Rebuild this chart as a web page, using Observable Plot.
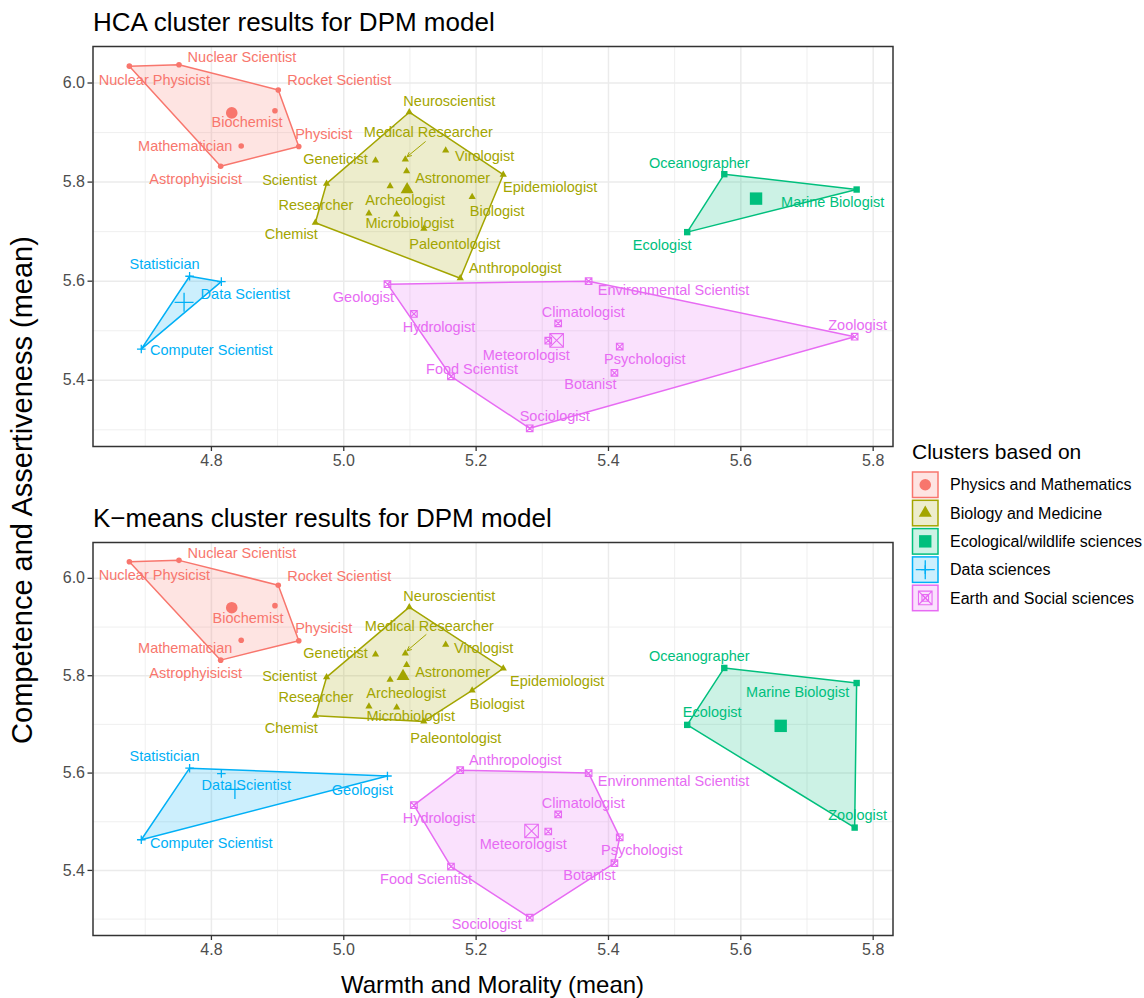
<!DOCTYPE html>
<html>
<head>
<meta charset="utf-8">
<script src="https://cdn.jsdelivr.net/npm/d3@7"></script>
<script src="https://cdn.jsdelivr.net/npm/@observablehq/plot@0.6"></script>
<style>
  body { margin: 0; background: #fff; font-family: "Liberation Sans", Arial, Helvetica, sans-serif; }
  #root { position: relative; width: 1144px; height: 998px; overflow: hidden; background: #fff; }
  #root svg.panel { position: absolute; left: 0; }
  #root svg.panel g[aria-label^="x-axis"] text,
  #root svg.panel g[aria-label^="y-axis"] text { fill: #4D4D4D; font-size: 16px; }
  #root svg.panel g[aria-label^="x-axis"] line, #root svg.panel g[aria-label^="x-axis"] path,
  #root svg.panel g[aria-label^="y-axis"] line, #root svg.panel g[aria-label^="y-axis"] path { stroke: #333333; stroke-width: 1.3; }
  #overlay { position: absolute; left: 0; top: 0; }
</style>
</head>
<body>
<div id="root"></div>
<script>
// ---------------- data ----------------
const jobs = [
  "Nuclear Physicist","Nuclear Scientist","Rocket Scientist","Biochemist","Mathematician","Physicist","Astrophyisicist",
  "Neuroscientist","Medical Researcher","Virologist","Geneticist","Astronomer","Epidemiologist","Scientist","Archeologist",
  "Biologist","Researcher","Microbiologist","Chemist","Paleontologist","Anthropologist",
  "Oceanographer","Marine Biologist","Ecologist",
  "Statistician","Data Scientist","Computer Scientist",
  "Geologist","Environmental Scientist","Hydrologist","Climatologist","Meteorologist","Psychologist","Botanist",
  "Food Scientist","Sociologist","Zoologist"
];
const warmth = [
  4.676,4.751,4.901,4.896,4.845,4.932,4.814,
  5.099,5.093,5.154,5.048,5.095,5.241,4.974,5.070,
  5.194,5.038,5.080,4.957,5.121,5.176,
  5.575,5.775,5.519,
  4.767,4.815,4.694,
  5.066,5.370,5.106,5.324,5.309,5.417,5.409,
  5.162,5.281,5.772
];
const competence = [
  6.034,6.037,5.986,5.944,5.873,5.872,5.832,
  5.941,5.846,5.864,5.844,5.822,5.815,5.797,5.792,
  5.770,5.737,5.735,5.718,5.706,5.606,
  5.816,5.785,5.699,
  5.610,5.599,5.463,
  5.594,5.600,5.534,5.515,5.480,5.468,5.415,
  5.408,5.303,5.488
];
const hcaCluster = [
  1,1,1,1,1,1,1,
  2,2,2,2,2,2,2,2,
  2,2,2,2,2,2,
  3,3,3,
  4,4,4,
  5,5,5,5,5,5,5,
  5,5,5
];
const kmeansCluster = [
  1,1,1,1,1,1,1,
  2,2,2,2,2,2,2,2,
  2,2,2,2,2,5,
  3,3,3,
  4,4,4,
  4,5,5,5,5,5,5,
  5,5,3
];
const clusterNames = ["Physics and Mathematics","Biology and Medicine","Ecological/wildlife sciences","Data sciences","Earth and Social sciences"];
const clusterColors = ["#F8766D","#A3A500","#00BF7D","#00B0F6","#E76BF3"];
const xMajorTicks = [4.8,5.0,5.2,5.4,5.6,5.8];
const xMinorTicks = [4.7,4.9,5.1,5.3,5.5,5.7];
const yMajorTicks = [5.4,5.6,5.8,6.0];
const yMinorTicks = [5.3,5.5,5.7,5.9];

// label offsets (pixels) imitating ggrepel placement
const labelOffsetsHCA = {
  "Nuclear Physicist":[25,14],"Nuclear Scientist":[63,-7],"Rocket Scientist":[61,-10],"Biochemist":[-28,12],
  "Mathematician":[-56,0],"Physicist":[25,-12],"Astrophyisicist":[-25,13],
  "Neuroscientist":[40,-11],"Medical Researcher":[23,-27],"Virologist":[39,6],"Geneticist":[-40,-1],
  "Astronomer":[46,7],"Epidemiologist":[47,13],"Scientist":[-37,-3],"Archeologist":[15,14],"Biologist":[25,14],
  "Researcher":[-53,-8],"Microbiologist":[13,9],"Chemist":[-24,12],"Paleontologist":[31,16],"Anthropologist":[55,-10],
  "Oceanographer":[-25,-11],"Marine Biologist":[-24,13],"Ecologist":[-25,13],
  "Statistician":[-25,-12],"Data Scientist":[24,13],"Computer Scientist":[70,1],
  "Geologist":[-24,13],"Environmental Scientist":[85,9],"Hydrologist":[25,13],"Climatologist":[25,-11],
  "Meteorologist":[-22,15],"Psychologist":[25,13],"Botanist":[-24,12],"Food Scientist":[21,-7],
  "Sociologist":[25,-12],"Zoologist":[3,-11]
};
const labelOffsetsKM = {
  "Nuclear Physicist":[25,14],"Nuclear Scientist":[63,-7],"Rocket Scientist":[61,-9],"Biochemist":[-27,13],
  "Mathematician":[-56,8],"Physicist":[25,-12],"Astrophyisicist":[-25,13],
  "Neuroscientist":[40,-11],"Medical Researcher":[24,-27],"Virologist":[38,4],"Geneticist":[-40,-1],
  "Astronomer":[46,7],"Epidemiologist":[54,13],"Scientist":[-37,-1],"Archeologist":[16,14],"Biologist":[25,14],
  "Researcher":[-53,-9],"Microbiologist":[14,9],"Chemist":[-24,13],"Paleontologist":[32,17],"Anthropologist":[55,-10],
  "Oceanographer":[-25,-12],"Marine Biologist":[-59,9],"Ecologist":[25,-13],"Zoologist":[3,-12],
  "Statistician":[-25,-12],"Data Scientist":[25,12],"Computer Scientist":[70,4],"Geologist":[-25,14],
  "Environmental Scientist":[85,8],"Hydrologist":[25,13],"Climatologist":[25,-11],"Meteorologist":[-25,13],
  "Psychologist":[22,13],"Botanist":[-25,12],"Food Scientist":[-25,13],"Sociologist":[-43,7]
};

// ---------------- symbols (ggplot shapes 16,17,15,3,7) ----------------
const rOf = size => Math.sqrt(size / Math.PI);
const symbols = [
  {draw(c, s){ const r = rOf(s); c.moveTo(r,0); c.arc(0,0,r,0,2*Math.PI); }},
  {draw(c, s){ const r = rOf(s), h = r*Math.sqrt(3); c.moveTo(0,-2*h/3); c.lineTo(r,h/3); c.lineTo(-r,h/3); c.closePath(); }},
  {draw(c, s){ const r = rOf(s); c.rect(-r,-r,2*r,2*r); }},
  {draw(c, s){ const r = rOf(s); c.moveTo(-r,0); c.lineTo(r,0); c.moveTo(0,-r); c.lineTo(0,r); }},
  {draw(c, s){ const r = rOf(s); c.rect(-r,-r,2*r,2*r); c.moveTo(-r,-r); c.lineTo(r,r); c.moveTo(r,-r); c.lineTo(-r,r); }}
];
const filled = [true,true,true,false,false];
const smallR = [2.8,3.6,3.2,4.3,3.3];
const bigR = [5.8,6.5,6.2,9.5,6.8];
const symStrokeW = [0,0,0,1.3,1.1];

const FONT = '"Liberation Sans", Arial, Helvetica, sans-serif';
const root = document.getElementById("root");

const W = 900, ML = 92.5, MR = 7.5, MT = 6, MB = 34;

function panel(assign, offsets, arrowOff, top, frameH) {
  const data = jobs.map((j, i) => ({job: j, x: warmth[i], y: competence[i], cl: assign[i]}));
  const xe = d3.extent(warmth), ye = d3.extent(competence);
  const xp = (xe[1]-xe[0])*0.05, yp = (ye[1]-ye[0])*0.05;
  const xDom = [xe[0]-xp, xe[1]+xp], yDom = [ye[0]-yp, ye[1]+yp];
  const pxX = (W-ML-MR)/(xDom[1]-xDom[0]), pxY = frameH/(yDom[1]-yDom[0]);

  const marks = [
    Plot.ruleX(xMinorTicks, {stroke: "#EBEBEB", strokeWidth: 0.8}),
    Plot.ruleY(yMinorTicks, {stroke: "#EBEBEB", strokeWidth: 0.8}),
    Plot.ruleX(xMajorTicks, {stroke: "#EBEBEB", strokeWidth: 1.5}),
    Plot.ruleY(yMajorTicks, {stroke: "#EBEBEB", strokeWidth: 1.5})
  ];
  for (let k = 1; k <= 5; k++) {
    const pts = data.filter(d => d.cl === k);
    const col = clusterColors[k-1];
    marks.push(Plot.hull(pts, {x: "x", y: "y", fill: col, fillOpacity: 0.2, stroke: col, strokeWidth: 1.5, strokeLinejoin: "round"}));
  }
  for (let k = 1; k <= 5; k++) {
    const pts = data.filter(d => d.cl === k);
    const col = clusterColors[k-1];
    const style = filled[k-1] ? {fill: col, stroke: "none"} : {fill: "none", stroke: col, strokeWidth: symStrokeW[k-1]};
    marks.push(Plot.dot(pts, {x: "x", y: "y", symbol: symbols[k-1], r: smallR[k-1], ...style}));
    marks.push(Plot.dot(pts, Plot.groupZ({x: "mean", y: "mean"}, {x: "x", y: "y", symbol: symbols[k-1], r: bigR[k-1], ...style})));
  }
  // ggrepel-like segment for Medical Researcher
  const mr = data.filter(d => d.job === "Medical Researcher");
  marks.push(Plot.arrow(mr, {
    x1: d => d.x + arrowOff[0]/pxX, y1: d => d.y - arrowOff[1]/pxY,
    x2: d => d.x + 1.7/pxX, y2: d => d.y + 2.5/pxY,
    stroke: clusterColors[mr[0].cl-1], strokeWidth: 1, headLength: 7, headAngle: 50, bend: 0
  }));
  for (const d of data) {
    const o = offsets[d.job];
    marks.push(Plot.text([d], {x: "x", y: "y", text: "job", dx: o[0], dy: o[1], fill: clusterColors[d.cl-1], fontSize: 14.5, fontFamily: FONT}));
  }
  marks.push(Plot.frame({stroke: "#333333", strokeWidth: 1.5}));

  const svg = Plot.plot({
    width: W, height: MT + frameH + MB,
    marginLeft: ML, marginRight: MR, marginTop: MT, marginBottom: MB,
    style: {fontFamily: FONT, fontSize: "16px", color: "#333333", background: "transparent", overflow: "visible"},
    x: {domain: xDom, ticks: xMajorTicks, tickFormat: d3.format(".1f"), tickSize: 5, tickPadding: 3, label: null},
    y: {domain: yDom, ticks: yMajorTicks, tickFormat: d3.format(".1f"), tickSize: 5, tickPadding: 3, label: null},
    marks
  });
  svg.classList.add("panel");
  svg.style.top = (top - MT) + "px";
  root.appendChild(svg);
}

panel(hcaCluster, labelOffsetsHCA, [20, -17.6], 46, 400);
panel(kmeansCluster, labelOffsetsKM, [20.7, -18.7], 542, 393);

// ---------------- titles, axis titles, legend ----------------
const ov = d3.select(root).append("svg").attr("id", "overlay")
  .attr("width", 1144).attr("height", 998)
  .style("font-family", FONT);
ov.append("text").attr("x", 93).attr("y", 31).attr("font-size", 26).attr("fill", "#000").text("HCA cluster results for DPM model");
ov.append("text").attr("x", 93).attr("y", 527).attr("font-size", 26).attr("fill", "#000").text("K\u2212means cluster results for DPM model");
ov.append("text").attr("x", 492.5).attr("y", 993).attr("text-anchor", "middle").attr("font-size", 24).attr("fill", "#000").text("Warmth and Morality (mean)");
ov.append("text").attr("transform", "translate(32,490) rotate(-90)").attr("text-anchor", "middle").attr("font-size", 29).attr("fill", "#000").text("Competence and Assertiveness (mean)");

ov.append("text").attr("x", 912).attr("y", 459).attr("font-size", 21).attr("fill", "#000").text("Clusters based on");
clusterNames.forEach((name, i) => {
  const y0 = 472 + i*28.3;
  const col = clusterColors[i];
  const g = ov.append("g");
  g.append("rect").attr("x", 912.5).attr("y", y0).attr("width", 25.5).attr("height", 25.5)
    .attr("fill", col).attr("fill-opacity", 0.2).attr("stroke", col).attr("stroke-width", 1.5);
  const cx = 925.25, cy = y0 + 12.75;
  [bigR[i], smallR[i]].forEach(r => {
    const p = g.append("path").attr("transform", `translate(${cx},${cy})`)
      .attr("d", d3.symbol().type(symbols[i]).size(Math.PI*r*r)());
    if (filled[i]) p.attr("fill", col); else p.attr("fill", "none").attr("stroke", col).attr("stroke-width", symStrokeW[i]);
  });
  ov.append("text").attr("x", 950).attr("y", cy + 5.7).attr("font-size", 16).attr("fill", "#000").text(name);
});
</script>
</body>
</html>
